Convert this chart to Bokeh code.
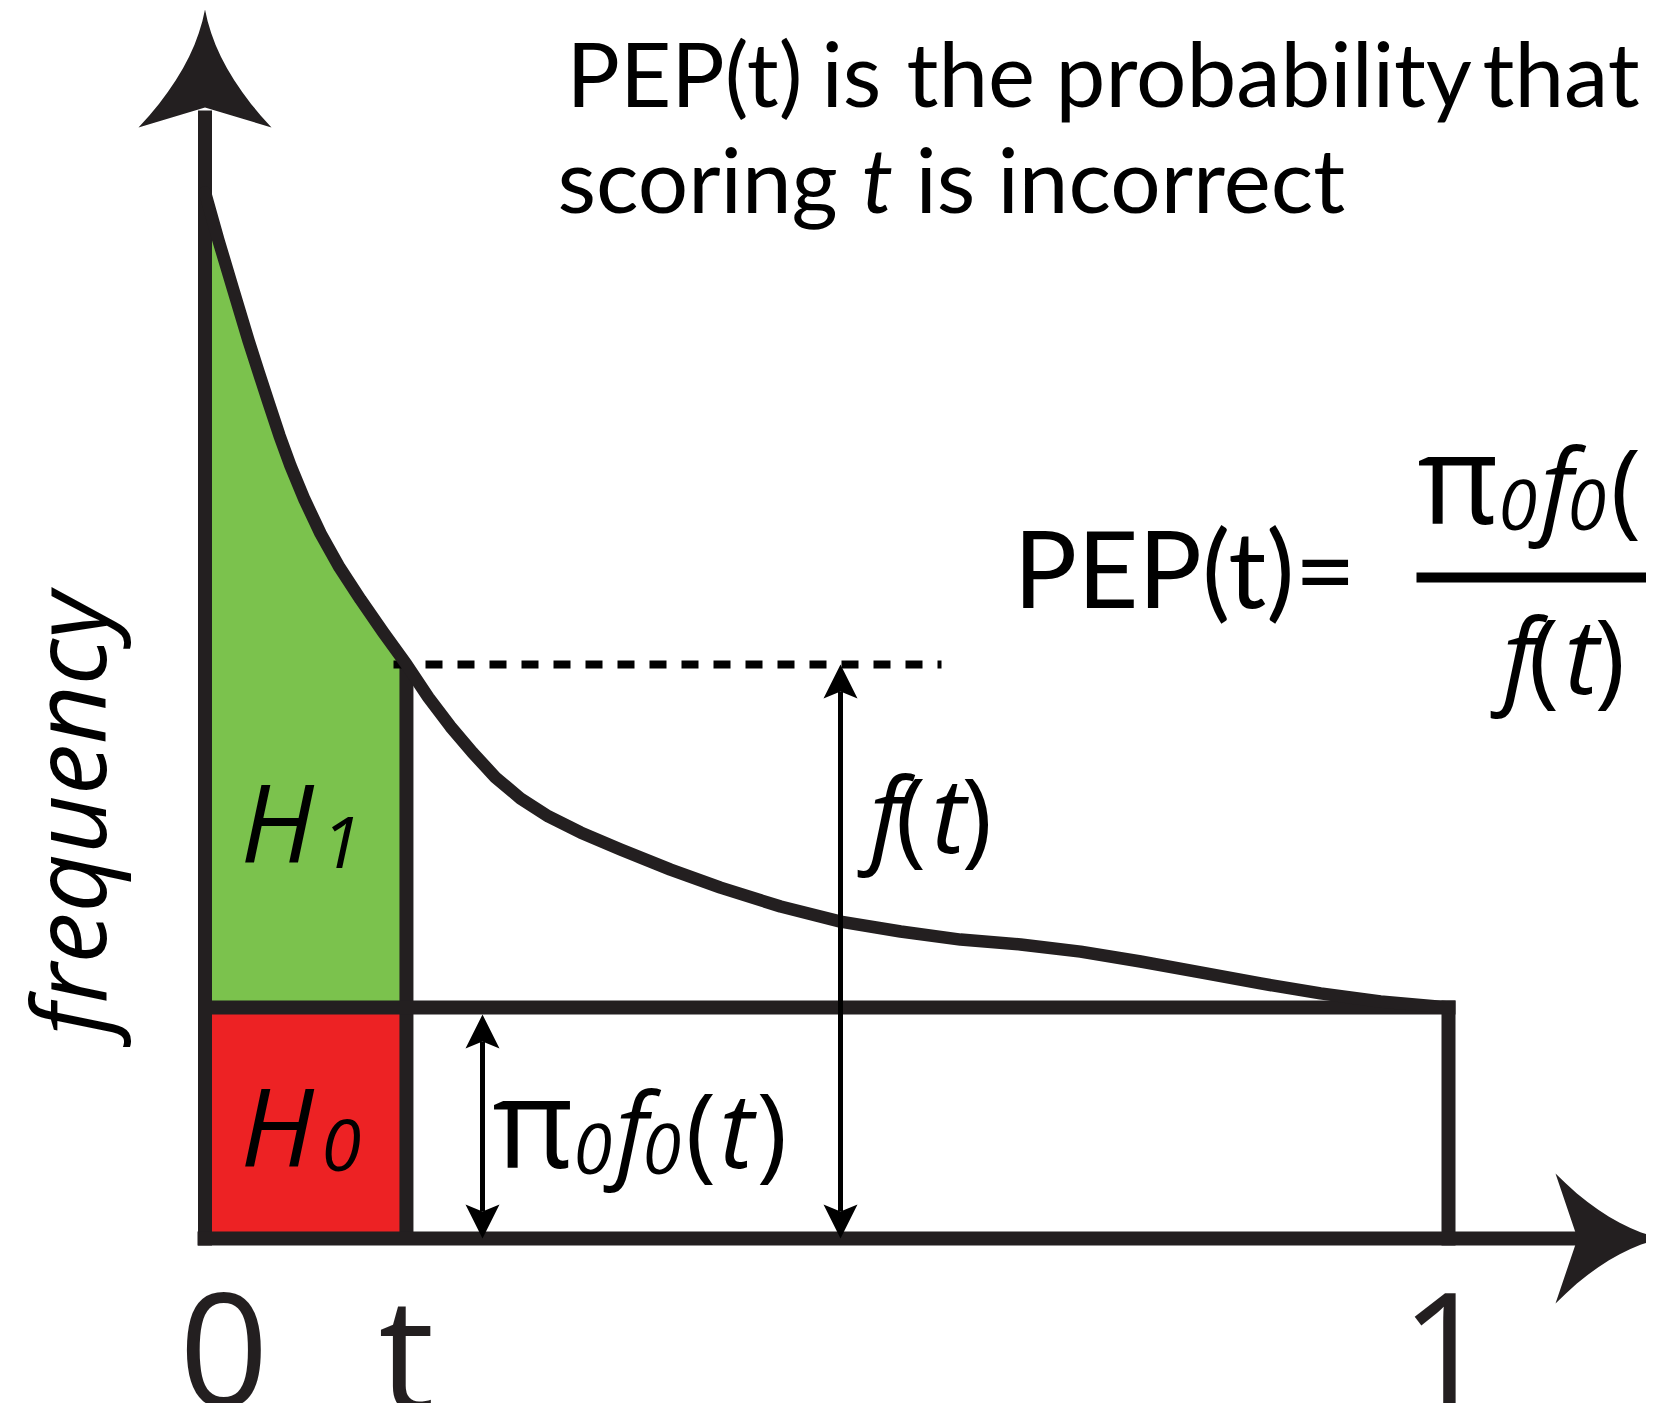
import math
from bokeh.plotting import figure
from bokeh.models import Range1d
from bokeh.core.properties import value
from bokeh.embed import file_html
from bokeh.resources import INLINE

# ---------------- data ----------------
# score axis runs 0..1, frequency in units of pi0*f0 (the flat null level = 1)
SCORE = [0.0000, 0.0109, 0.0229, 0.0350, 0.0430, 0.0511, 0.0599, 0.0687, 0.0800,
         0.0929, 0.1082, 0.1251, 0.1435, 0.1620,
         0.1797, 0.1974, 0.2151, 0.2336, 0.2537, 0.2762, 0.3020, 0.3342, 0.3744,
         0.4146, 0.4629, 0.5111, 0.5594, 0.6076, 0.6559, 0.7041, 0.7524, 0.8006,
         0.8489, 0.8971, 0.9453, 1.0000]
FREQ = [4.528, 4.320, 4.104, 3.887, 3.753, 3.619, 3.476, 3.346, 3.199,
        3.052, 2.905, 2.766, 2.623, 2.485,
        2.342, 2.216, 2.104, 1.996, 1.905, 1.827, 1.758, 1.684, 1.597,
        1.519, 1.437, 1.372, 1.329, 1.294, 1.273, 1.242, 1.199, 1.152,
        1.104, 1.061, 1.026, 1.000]
T = 0.162          # threshold score t
F_T = 2.485        # f(t)
PI0_F0 = 1.0       # pi0 * f0(t), flat null density
TICK_POS = [0.0, T, 1.0]
TICK_LABELS = ["0", "t", "1"]

# ---------------- layout (page pixels of the reference) ----------------
X0_PX, SX = 204.5, 1243.5
Y0_PX, SY = 1238.0, 231.0
W, H = 1646, 1403
K = 0.39  # baseline correction of the text renderer (fraction of font size)


def dx(px):
    return (px - X0_PX) / SX


def dy(py):
    return (Y0_PX - py) / SY


INK = "#231f20"
GREEN = "#7bc24d"
RED = "#ed2224"
BLACK = "#000000"

p = figure(width=W, height=H,
           x_range=Range1d(dx(0), dx(W)),
           y_range=Range1d(dy(H), dy(0)),
           output_backend="svg", toolbar_location=None,
           x_axis_location=None, y_axis_location=None,
           min_border=0, min_border_left=0, min_border_right=0,
           min_border_top=0, min_border_bottom=0)
p.grid.visible = False
p.outline_line_color = None
p.background_fill_color = "white"
p.border_fill_color = "white"

# ---------------- filled regions ----------------
gx = [s for s in SCORE if s <= T] + [T, 0.0]
gy = [f for s, f in zip(SCORE, FREQ) if s <= T] + [PI0_F0, PI0_F0]
p.patch(gx, gy, fill_color=GREEN, line_color=None)
p.quad(left=[0.0], right=[T], bottom=[0.0], top=[PI0_F0], fill_color=RED, line_color=None)

# ---------------- structural lines ----------------
p.line([T, T], [0.0, F_T], line_color=INK, line_width=14)
p.line([0.0, 1.0], [PI0_F0, PI0_F0], line_color=INK, line_width=14, line_cap="square")
p.line([1.0, 1.0], [0.0, PI0_F0], line_color=INK, line_width=14, line_cap="square")

# axes shafts
p.line([0.0, 0.0], [dy(1245), dy(110)], line_color=INK, line_width=14)
p.line([dx(197), dx(1580)], [0.0, 0.0], line_color=INK, line_width=14)


def head(tip_px, u, length, half, notch, ctrl, n=10):
    tx, ty = tip_px
    ux, uy = u
    vx, vy = -uy, ux
    pts = []
    c1 = (tx + ux * length / 2 + vx * ctrl, ty + uy * length / 2 + vy * ctrl)
    w1 = (tx + ux * length + vx * half, ty + uy * length + vy * half)
    w2 = (tx + ux * length - vx * half, ty + uy * length - vy * half)
    c2 = (tx + ux * length / 2 - vx * ctrl, ty + uy * length / 2 - vy * ctrl)
    nt = (tx + ux * notch, ty + uy * notch)
    for i in range(n + 1):
        s = i / n
        pts.append(((1 - s) ** 2 * tx + 2 * (1 - s) * s * c1[0] + s * s * w1[0],
                    (1 - s) ** 2 * ty + 2 * (1 - s) * s * c1[1] + s * s * w1[1]))
    pts.append(nt)
    for i in range(n + 1):
        s = i / n
        pts.append(((1 - s) ** 2 * w2[0] + 2 * (1 - s) * s * c2[0] + s * s * tx,
                    (1 - s) ** 2 * w2[1] + 2 * (1 - s) * s * c2[1] + s * s * ty))
    return [dx(a) for a, b in pts], [dy(b) for a, b in pts]


# big axis arrowheads (concave sides)
hx, hy = head((X0_PX, 9), (0, 1), 118, 66.5, 98, 11)
p.patch(hx, hy, fill_color=INK, line_color=None)
hx, hy = head((1662, Y0_PX), (-1, 0), 107, 65, 85, 11)
p.patch(hx, hy, fill_color=INK, line_color=None)

# f(t) level dashed line
p.line([dx(393), dx(941)], [F_T, F_T], line_color=BLACK, line_width=8, line_dash="17 15")

# curve f(t)
p.line(SCORE, FREQ, line_color=INK, line_width=12.5, line_join="round", line_cap="round")


def double_arrow(xd, y_bot, y_top):
    px = X0_PX + xd * SX
    top_py = Y0_PX - y_top * SY
    bot_py = Y0_PX - y_bot * SY
    p.line([xd, xd], [dy(bot_py - 27), dy(top_py + 27)], line_color=BLACK, line_width=5)
    a, b = head((px, top_py), (0, 1), 34, 17, 27, 8.5, n=2)
    p.patch(a, b, fill_color=BLACK, line_color=None)
    a, b = head((px, bot_py), (0, -1), 34, 17, 27, 8.5, n=2)
    p.patch(a, b, fill_color=BLACK, line_color=None)


double_arrow(dx(840), 0.0, F_T)
double_arrow(dx(482), 0.0, PI0_F0 - 7 / SY)

# fraction bar
p.line([dx(1416), dx(1700)], [dy(577), dy(577)], line_color=BLACK, line_width=10)


# ---------------- text ----------------
def put(txt, px, py, size, font="Open Sans", style="normal", color=BLACK,
        align="left", angle=0.0, fix=True):
    yy = py - K * size if fix else py
    p.text(x=[dx(px)], y=[dy(yy)], text=[txt], text_font=value(font),
           text_font_size=f"{size}px", text_font_style=style, text_color=color,
           text_align=align, text_baseline="alphabetic", angle=angle)


TF = "Lato"
TS = 89
for word, xpx in [("PEP(t)", 566), ("is", 821), ("the", 906), ("probability", 1055), ("that", 1482)]:
    put(word, xpx, 107, TS, font=TF)
for word, xpx, st in [("scoring", 557, "normal"), ("t", 861, "italic"), ("is", 915, "normal"),
                      ("incorrect", 997, "normal")]:
    put(word, xpx, 213, TS, font=TF, style=st)

put("PEP(t)=", 1013, 608, 106, font=TF)


def pi0f0(ox, oy):
    put("\u03c0", ox - 8, oy, 125)
    put("0", ox + 73, oy + 8, 70, style="italic")
    put("f", ox + 115, oy, 104, style="italic")
    put("0", ox + 142, oy + 8, 70, style="italic")
    put("(", ox + 185, oy, 104)
    put("t", ox + 219, oy, 104, style="italic")
    put(")", ox + 256, oy, 104)


def f_of_t(ox, oy):
    put("f", ox + 4, oy, 104, style="italic")
    put("(", ox + 30, oy, 104)
    put("t", ox + 66, oy, 104, style="italic")
    put(")", ox + 96, oy, 104)


pi0f0(1425, 524)
f_of_t(1498, 694)
pi0f0(500, 1168)
f_of_t(865, 853)

put("H", 240, 862, 108, style="italic")
put("1", 321, 870, 72, style="italic")
put("H", 240, 1166, 108, style="italic")
put("0", 321, 1173, 72, style="italic")

put("frequency", 66, 1035, 102, style="italic", angle=math.pi / 2, fix=False)

offs = [19, 0, -3]
for pos, lab, o in zip(TICK_POS, TICK_LABELS, offs):
    put(lab, X0_PX + pos * SX + o, 1410, 157, color=INK, align="center")

open("out.html", "w").write(file_html(p, INLINE))
